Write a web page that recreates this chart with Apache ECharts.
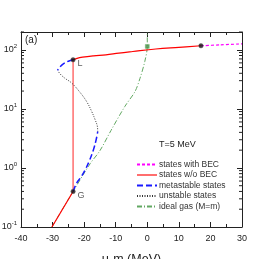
<!DOCTYPE html>
<html>
<head>
<meta charset="utf-8">
<script src="https://cdn.jsdelivr.net/npm/echarts@6/dist/echarts.min.js"></script>
<style>html,body{margin:0;padding:0;background:#fff;}#c{width:264px;height:259px;}</style>
</head>
<body>
<div id="c"></div>
<script>
// ---- data ----
const becX = [17, 23, 30];
const becY = [117, 121, 126];
const noBecX = [-23.5, -22.5, -20.5, -17, -13.1, -9, -4.6, 2.7, 10, 17];
const noBecY = [67.7, 71, 75, 79, 82, 88, 93.6, 103, 110, 117];
const noBecLowX = [-30.2, -23.5];
const noBecLowY = [0.1, 0.40];
const jumpX = [-23.5, -23.5];
const jumpY = [0.40, 67.7];
const metaUpX = [-23.5, -25, -26.6, -27.7, -28.4];
const metaUpY = [67.7, 64, 58, 51, 45];
const metaLowX = [-23.5, -22.4, -21, -19.7, -18.4, -17.1, -16.2, -15.7];
const metaLowY = [0.40, 0.55, 0.70, 0.92, 1.3, 2.0, 3.0, 4.1];
const unstX = [-15.7, -15.8, -16.5, -17.6, -19.1, -21.3, -24, -26.1, -27.6, -28.4];
const unstY = [4.1, 5.0, 6.5, 9.0, 13, 19, 27.5, 33, 39, 45];
const idealX = [-30.2, -23.5, -18.1, -15, -11.5, -7.1, -3.9, -2.3, -0.8, 0, 0];
const idealY = [0.1, 0.40, 1.18, 1.96, 4.3, 11, 19.6, 33, 63, 114, 200];
const dotX = [-23.5, -23.5, 17];
const dotY = [67.7, 0.40, 117];
const dotLabels = ['L', 'G', ''];
const squareX = [0];
const squareY = [114];
const xTicks = [-40, -30, -20, -10, 0, 10, 20, 30];
const yMinorTicks = [];
[0.1, 1, 10, 100].forEach(d => { for (let k = 2; k <= 9; k++) { if (d * k <= 200) yMinorTicks.push(d * k); } });

const zip = (a, b) => a.map((v, i) => [v, b[i]]);
const FONT = 'Liberation Sans';
const X_MIN = -40, X_MAX = 30;

const chart = echarts.init(document.getElementById('c'), null, {renderer: 'canvas'});

const supFmt = v => {
  const e = Math.log10(v);
  const r = Math.round(e);
  if (Math.abs(e - r) > 1e-6) return '';
  return '10{s|' + r + '}';
};

const axisLine = {show: true, onZero: false, lineStyle: {color: '#222', width: 1}};

chart.setOption({
  animation: false,
  textStyle: {fontFamily: FONT},
  grid: {left: 21, right: 22, top: 32, bottom: 32, containLabel: false, outerBoundsMode: 'none'},
  xAxis: [{
    type: 'value', min: X_MIN, max: X_MAX, interval: 10, position: 'bottom',
    name: 'μ-m (MeV)', nameLocation: 'middle', nameGap: 26,
    nameTextStyle: {fontSize: 12.5, color: '#222', fontFamily: FONT},
    axisLine: axisLine,
    axisTick: {inside: true, length: 5, lineStyle: {color: '#222'}},
    minorTick: {show: true, splitNumber: 2, length: 3, lineStyle: {color: '#222'}},
    axisLabel: {fontSize: 9, color: '#222', margin: 7, formatter: v => xTicks.includes(v) ? String(v) : ''},
    splitLine: {show: false}
  }, {
    type: 'value', min: X_MIN, max: X_MAX, interval: 10, position: 'top',
    axisLine: axisLine,
    axisTick: {inside: true, length: 5, lineStyle: {color: '#222'}},
    minorTick: {show: true, splitNumber: 2, length: 3, lineStyle: {color: '#222'}},
    axisLabel: {show: false}, splitLine: {show: false}
  }],
  yAxis: [{
    type: 'log', logBase: 10, min: 0.1, max: 200, position: 'left',
    axisLine: axisLine,
    axisTick: {inside: true, length: 5, lineStyle: {color: '#222'}},
    axisLabel: {showMaxLabel: false, margin: 4, color: '#222', fontSize: 9, formatter: supFmt,
      rich: {s: {fontSize: 6, verticalAlign: 'top', padding: [0, 0, 7, 0], color: '#222'}}},
    splitLine: {show: false}
  }, {
    type: 'log', logBase: 10, min: 0.1, max: 200, position: 'right',
    axisLine: axisLine,
    axisTick: {inside: true, length: 5, lineStyle: {color: '#222'}},
    axisLabel: {show: false}, splitLine: {show: false}
  }],
  legend: {
    left: 131, top: 155, orient: 'vertical', itemGap: 1.5, itemWidth: 20, itemHeight: 10,
    itemStyle: {opacity: 0},
    textStyle: {fontSize: 8.5, color: '#333', fontFamily: FONT, padding: [0, 0, 0, -3]},
    data: ['states with BEC', 'states w/o BEC', 'metastable states', 'unstable states', 'ideal gas (M=m)']
  },
  graphic: [
    {type: 'text', left: 25, top: 35, style: {text: '(a)', fontSize: 10, fill: '#222', fontFamily: FONT}},
    {type: 'text', left: 159, top: 140, style: {text: 'T=5 MeV', fontSize: 9, fill: '#222', fontFamily: FONT}}
  ],
  series: [
    {name: 'ideal gas (M=m)', type: 'line', data: zip(idealX, idealY), symbol: 'none', smooth: 0.3,
      lineStyle: {color: '#62a862', width: 1, type: [5, 2, 1, 2]}, itemStyle: {color: '#62a862'}, z: 2},
    {name: 'states w/o BEC', type: 'line', data: zip(jumpX, jumpY), symbol: 'none',
      lineStyle: {color: '#ff5555', width: 1.5, opacity: 0.85}, itemStyle: {color: '#ff0000'}, z: 3},
    {name: 'unstable states', type: 'line', data: zip(unstX, unstY), symbol: 'none', smooth: 0.4,
      lineStyle: {color: '#333', width: 1, type: [1, 1.5]}, itemStyle: {color: '#333'}, z: 3},
    {name: 'metastable states', type: 'line', data: zip(metaUpX, metaUpY), symbol: 'none', smooth: 0.4,
      lineStyle: {color: '#1a1aff', width: 1.5, type: [6, 3]}, itemStyle: {color: '#1a1aff'}, z: 4},
    {name: 'metastable states', type: 'line', data: zip(metaLowX, metaLowY), symbol: 'none', smooth: 0.4,
      lineStyle: {color: '#1a1aff', width: 1.5, type: [6, 3]}, itemStyle: {color: '#1a1aff'}, z: 4},
    {name: 'states w/o BEC', type: 'line', data: zip(noBecX, noBecY), symbol: 'none', smooth: 0.4,
      lineStyle: {color: '#ff0000', width: 1.2}, itemStyle: {color: '#ff0000'}, z: 5},
    {name: 'states w/o BEC', type: 'line', data: zip(noBecLowX, noBecLowY), symbol: 'none',
      lineStyle: {color: '#ff0000', width: 1.2}, itemStyle: {color: '#ff0000'}, z: 5},
    {name: 'states with BEC', type: 'line', data: zip(becX, becY), symbol: 'none', smooth: 0.3,
      lineStyle: {color: '#ff00ff', width: 1.2, type: [3, 2]}, itemStyle: {color: '#ff00ff'}, z: 5},
    {type: 'scatter', data: zip(squareX, squareY), symbol: 'rect', symbolSize: 4,
      itemStyle: {color: '#3d8a3d', borderColor: '#6cb36c', borderWidth: 0.5}, z: 6, silent: true},
    {type: 'scatter', data: zip(dotX, dotY), symbol: 'circle', symbolSize: 4.5,
      itemStyle: {color: '#111', borderColor: '#555', borderWidth: 0.5}, z: 7, silent: true,
      label: {show: true, position: 'right', distance: 2, offset: [0, 4], fontSize: 9, color: '#333', fontFamily: FONT,
        formatter: p => dotLabels[p.dataIndex]}},
    {type: 'custom', silent: true, z: 8, data: yMinorTicks.map(v => [X_MIN, v]),
      encode: {x: 0, y: 1},
      renderItem: (params, api) => {
        const v = api.value(1);
        const pl = api.coord([X_MIN, v]);
        const pr = api.coord([X_MAX, v]);
        return {type: 'group', children: [
          {type: 'line', shape: {x1: pl[0], y1: pl[1], x2: pl[0] + 3, y2: pl[1]}, style: {stroke: '#222', lineWidth: 1}},
          {type: 'line', shape: {x1: pr[0], y1: pr[1], x2: pr[0] - 3, y2: pr[1]}, style: {stroke: '#222', lineWidth: 1}}
        ]};
      }}
  ]
});
</script>
</body>
</html>
